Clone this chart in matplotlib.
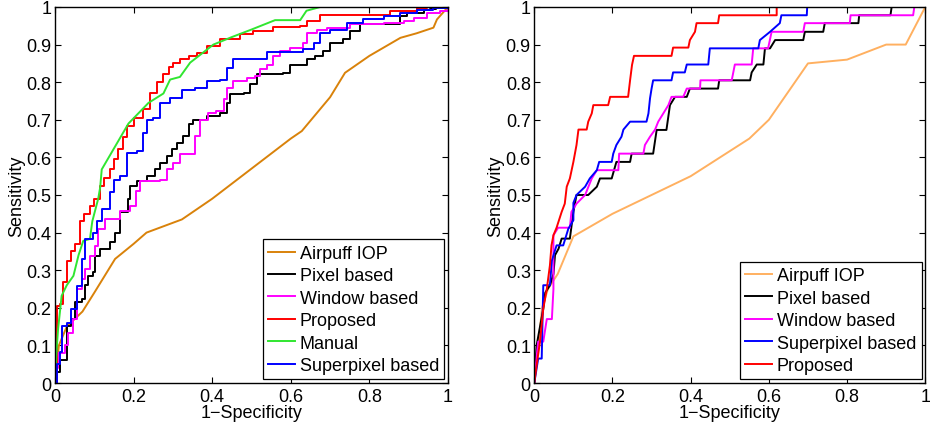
import matplotlib
matplotlib.use("Agg")
import matplotlib.pyplot as plt

plt.rcParams['font.family'] = ['Liberation Sans', 'DejaVu Sans']

# ---------------- Left panel data ----------------
L_air_x = [0, 0.01, 0.03, 0.07, 0.10, 0.153, 0.20, 0.233, 0.323, 0.40, 0.50, 0.60, 0.628, 0.70, 0.738, 0.80, 0.879, 0.92, 0.963, 0.972, 1.0]
L_air_y = [0, 0.10, 0.15, 0.19, 0.24, 0.33, 0.37, 0.40, 0.435, 0.49, 0.57, 0.65, 0.67, 0.76, 0.825, 0.87, 0.918, 0.93, 0.945, 0.967, 1.0]

L_pix_x = [0, 0.005, 0.013, 0.03, 0.042, 0.051, 0.068, 0.076, 0.085, 0.097, 0.102, 0.114, 0.14, 0.153, 0.165, 0.186, 0.191, 0.208, 0.233, 0.255, 0.267, 0.284, 0.297, 0.31, 0.327, 0.34, 0.352, 0.369, 0.386, 0.42, 0.437, 0.446, 0.48, 0.497, 0.514, 0.581, 0.598, 0.641, 0.662, 0.683, 0.70, 0.734, 0.751, 0.777, 0.879, 0.896, 0.938, 0.955, 0.97, 1.0]
L_pix_y = [0, 0.03, 0.06, 0.152, 0.17, 0.215, 0.223, 0.26, 0.285, 0.294, 0.339, 0.356, 0.374, 0.40, 0.454, 0.49, 0.525, 0.537, 0.55, 0.568, 0.586, 0.603, 0.621, 0.639, 0.657, 0.688, 0.699, 0.699, 0.71, 0.719, 0.745, 0.768, 0.77, 0.794, 0.821, 0.825, 0.847, 0.861, 0.87, 0.883, 0.905, 0.914, 0.936, 0.954, 0.976, 0.985, 0.992, 0.994, 1.0, 1.0]

L_win_x = [0, 0.004, 0.008, 0.025, 0.034, 0.047, 0.055, 0.068, 0.076, 0.089, 0.102, 0.11, 0.127, 0.165, 0.19, 0.205, 0.216, 0.267, 0.284, 0.301, 0.318, 0.348, 0.357, 0.369, 0.39, 0.411, 0.429, 0.437, 0.454, 0.488, 0.509, 0.522, 0.539, 0.556, 0.573, 0.598, 0.632, 0.641, 0.666, 0.692, 0.751, 0.836, 0.887, 0.913, 0.947, 0.98, 1.0]
L_win_y = [0, 0.04, 0.08, 0.10, 0.134, 0.17, 0.25, 0.277, 0.303, 0.339, 0.365, 0.41, 0.436, 0.458, 0.472, 0.51, 0.537, 0.541, 0.568, 0.586, 0.608, 0.608, 0.657, 0.70, 0.719, 0.723, 0.754, 0.785, 0.803, 0.812, 0.816, 0.834, 0.847, 0.87, 0.883, 0.892, 0.905, 0.932, 0.94, 0.945, 0.954, 0.958, 0.963, 0.972, 0.985, 0.99, 1.0]

L_pro_x = [0, 0.004, 0.012, 0.021, 0.03, 0.042, 0.052, 0.064, 0.075, 0.089, 0.10, 0.115, 0.125, 0.14, 0.15, 0.161, 0.172, 0.183, 0.2, 0.225, 0.242, 0.26, 0.276, 0.29, 0.301, 0.318, 0.34, 0.361, 0.386, 0.42, 0.471, 0.505, 0.556, 0.624, 0.641, 0.675, 0.794, 0.853, 0.921, 0.947, 1.0]
L_pro_y = [0, 0.206, 0.21, 0.268, 0.325, 0.352, 0.37, 0.432, 0.45, 0.472, 0.49, 0.524, 0.545, 0.568, 0.595, 0.621, 0.655, 0.683, 0.705, 0.728, 0.772, 0.80, 0.821, 0.84, 0.852, 0.862, 0.87, 0.878, 0.896, 0.914, 0.927, 0.936, 0.947, 0.949, 0.963, 0.98, 0.98, 0.989, 0.996, 1.0, 1.0]

L_man_x = [0, 0.005, 0.008, 0.017, 0.03, 0.047, 0.06, 0.072, 0.089, 0.095, 0.11, 0.115, 0.119, 0.187, 0.238, 0.276, 0.293, 0.318, 0.344, 0.403, 0.45, 0.50, 0.56, 0.624, 0.64, 0.675, 1.0]
L_man_y = [0, 0.10, 0.144, 0.232, 0.26, 0.285, 0.34, 0.378, 0.383, 0.43, 0.49, 0.52, 0.568, 0.69, 0.745, 0.77, 0.807, 0.814, 0.852, 0.90, 0.92, 0.94, 0.965, 0.965, 0.99, 1.0, 1.0]

L_sup_x = [0, 0.006, 0.013, 0.017, 0.03, 0.042, 0.055, 0.068, 0.076, 0.097, 0.108, 0.119, 0.14, 0.149, 0.166, 0.183, 0.208, 0.225, 0.233, 0.25, 0.267, 0.293, 0.323, 0.357, 0.386, 0.42, 0.437, 0.454, 0.53, 0.539, 0.59, 0.632, 0.658, 0.675, 0.70, 0.743, 0.785, 0.836, 0.879, 0.921, 0.963, 1.0]
L_sup_y = [0, 0.05, 0.082, 0.152, 0.16, 0.197, 0.259, 0.33, 0.383, 0.40, 0.43, 0.463, 0.507, 0.541, 0.55, 0.612, 0.617, 0.665, 0.70, 0.705, 0.745, 0.759, 0.78, 0.785, 0.803, 0.807, 0.838, 0.861, 0.861, 0.88, 0.88, 0.887, 0.905, 0.932, 0.94, 0.958, 0.969, 0.976, 0.985, 0.991, 0.998, 1.0]

# ---------------- Right panel data ----------------
R_air_x = [0, 0.02, 0.035, 0.06, 0.10, 0.20, 0.30, 0.40, 0.55, 0.60, 0.70, 0.80, 0.90, 0.95, 1.0]
R_air_y = [0, 0.20, 0.25, 0.29, 0.39, 0.45, 0.50, 0.55, 0.65, 0.70, 0.85, 0.86, 0.90, 0.90, 1.0]

R_pix_x = [0, 0.006, 0.015, 0.023, 0.028, 0.04, 0.049, 0.053, 0.062, 0.07, 0.091, 0.10, 0.108, 0.138, 0.16, 0.168, 0.198, 0.21, 0.245, 0.249, 0.304, 0.313, 0.338, 0.347, 0.36, 0.39, 0.398, 0.47, 0.473, 0.552, 0.556, 0.569, 0.586, 0.59, 0.603, 0.616, 0.688, 0.692, 0.739, 0.743, 0.829, 0.831, 0.911, 0.914, 1.0]
R_pix_y = [0, 0.10, 0.152, 0.197, 0.24, 0.26, 0.29, 0.34, 0.357, 0.384, 0.384, 0.455, 0.50, 0.50, 0.522, 0.544, 0.544, 0.588, 0.588, 0.61, 0.61, 0.673, 0.673, 0.739, 0.761, 0.761, 0.783, 0.783, 0.805, 0.805, 0.826, 0.847, 0.847, 0.89, 0.89, 0.912, 0.912, 0.934, 0.934, 0.957, 0.957, 0.978, 0.978, 1.0, 1.0]

R_win_x = [0, 0.006, 0.01, 0.023, 0.032, 0.045, 0.049, 0.049, 0.061, 0.091, 0.095, 0.108, 0.13, 0.147, 0.16, 0.215, 0.217, 0.279, 0.283, 0.296, 0.309, 0.317, 0.33, 0.343, 0.351, 0.381, 0.39, 0.424, 0.425, 0.505, 0.509, 0.513, 0.556, 0.56, 0.598, 0.607, 0.688, 0.692, 0.807, 0.809, 0.969, 0.972, 1.0]
R_win_y = [0, 0.07, 0.11, 0.11, 0.17, 0.17, 0.25, 0.393, 0.413, 0.413, 0.455, 0.477, 0.50, 0.544, 0.566, 0.566, 0.61, 0.61, 0.633, 0.655, 0.674, 0.695, 0.717, 0.739, 0.761, 0.761, 0.783, 0.783, 0.805, 0.805, 0.826, 0.847, 0.847, 0.89, 0.89, 0.934, 0.934, 0.957, 0.957, 0.978, 0.978, 1.0, 1.0]

R_sup_x = [0, 0.01, 0.019, 0.023, 0.04, 0.045, 0.057, 0.074, 0.087, 0.10, 0.10, 0.108, 0.13, 0.142, 0.16, 0.166, 0.198, 0.202, 0.21, 0.223, 0.228, 0.245, 0.287, 0.292, 0.296, 0.30, 0.304, 0.351, 0.355, 0.385, 0.39, 0.445, 0.449, 0.573, 0.577, 0.603, 0.628, 0.632, 0.697, 0.698, 1.0]
R_sup_y = [0, 0.065, 0.065, 0.26, 0.26, 0.326, 0.366, 0.366, 0.41, 0.433, 0.479, 0.50, 0.522, 0.544, 0.566, 0.588, 0.588, 0.61, 0.633, 0.655, 0.674, 0.695, 0.695, 0.717, 0.757, 0.783, 0.805, 0.805, 0.826, 0.826, 0.847, 0.847, 0.89, 0.89, 0.912, 0.934, 0.957, 0.978, 0.978, 1.0, 1.0]

R_pro_x = [0, 0.006, 0.0145, 0.023, 0.032, 0.04, 0.044, 0.049, 0.057, 0.07, 0.078, 0.083, 0.091, 0.10, 0.108, 0.113, 0.134, 0.138, 0.147, 0.151, 0.189, 0.194, 0.24, 0.245, 0.25, 0.255, 0.351, 0.355, 0.394, 0.398, 0.411, 0.415, 0.47, 0.473, 0.62, 0.62, 1.0]
R_pro_y = [0, 0.047, 0.109, 0.198, 0.25, 0.313, 0.366, 0.393, 0.413, 0.455, 0.477, 0.522, 0.544, 0.588, 0.633, 0.674, 0.674, 0.695, 0.717, 0.739, 0.739, 0.761, 0.761, 0.805, 0.846, 0.87, 0.87, 0.892, 0.892, 0.912, 0.934, 0.957, 0.957, 0.978, 0.978, 1.0, 1.0]

labels_left = ["Airpuff IOP", "Pixel based", "Window based", "Proposed", "Manual", "Superpixel based"]
labels_right = ["Airpuff IOP", "Pixel based", "Window based", "Superpixel based", "Proposed"]
ticks = [0, 0.1, 0.2, 0.3, 0.4, 0.5, 0.6, 0.7, 0.8, 0.9, 1.0]
xticks = [0, 0.2, 0.4, 0.6, 0.8, 1.0]

fig = plt.figure(figsize=(9.3, 4.27), dpi=100)
axL = fig.add_axes([0.0591, 0.1007, 0.4226, 0.8806])
axR = fig.add_axes([0.5745, 0.1007, 0.4204, 0.8806])

lw = 1.4
axL.plot(L_air_x, L_air_y, color='#d9820a', lw=lw, label=labels_left[0])
axL.plot(L_pix_x, L_pix_y, color='black', lw=lw, drawstyle='steps-post', label=labels_left[1])
axL.plot(L_win_x, L_win_y, color='#ff00ff', lw=lw, drawstyle='steps-post', label=labels_left[2])
axL.plot(L_pro_x, L_pro_y, color='#ff0000', lw=lw, drawstyle='steps-post', label=labels_left[3])
axL.plot(L_man_x, L_man_y, color='#30e630', lw=lw, label=labels_left[4])
axL.plot(L_sup_x, L_sup_y, color='#0000ff', lw=lw, drawstyle='steps-post', label=labels_left[5])

axR.plot(R_air_x, R_air_y, color='#ffb060', lw=lw, label=labels_right[0])
axR.plot(R_pix_x, R_pix_y, color='black', lw=lw, label=labels_right[1])
axR.plot(R_win_x, R_win_y, color='#ff00ff', lw=lw, label=labels_right[2])
axR.plot(R_sup_x, R_sup_y, color='#0000ff', lw=lw, label=labels_right[3])
axR.plot(R_pro_x, R_pro_y, color='#ff0000', lw=lw, label=labels_right[4])

def fmt(v):
    return "0" if v == 0 else ("1" if v == 1 else ("%.1f" % v))

for ax in (axL, axR):
    ax.set_xlim(0, 1)
    ax.set_ylim(0, 1)
    ax.set_xticks(xticks)
    ax.set_xticklabels([fmt(v) for v in xticks])
    ax.set_yticks(ticks)
    ax.set_yticklabels([fmt(v) for v in ticks])
    ax.tick_params(direction='in', top=True, right=True, length=4, width=0.8,
                   labelsize=13, colors='black')
    ax.tick_params(axis='x', pad=3.5)
    ax.tick_params(axis='y', pad=2.5)
    for s in ax.spines.values():
        s.set_linewidth(1.0)
    ax.set_xlabel("1\u2212Specificity", fontsize=13, labelpad=-0.5)
    ax.set_ylabel("Sensitivity", fontsize=13, labelpad=1)
    leg = ax.legend(loc='lower right', fontsize=13, frameon=True, fancybox=False,
                    edgecolor='black', framealpha=1, handlelength=1.5,
                    handletextpad=0.25, labelspacing=0.3, borderpad=0.3,
                    borderaxespad=0.2)
    leg.get_frame().set_linewidth(0.9)

fig.savefig("out.png", dpi=100)
